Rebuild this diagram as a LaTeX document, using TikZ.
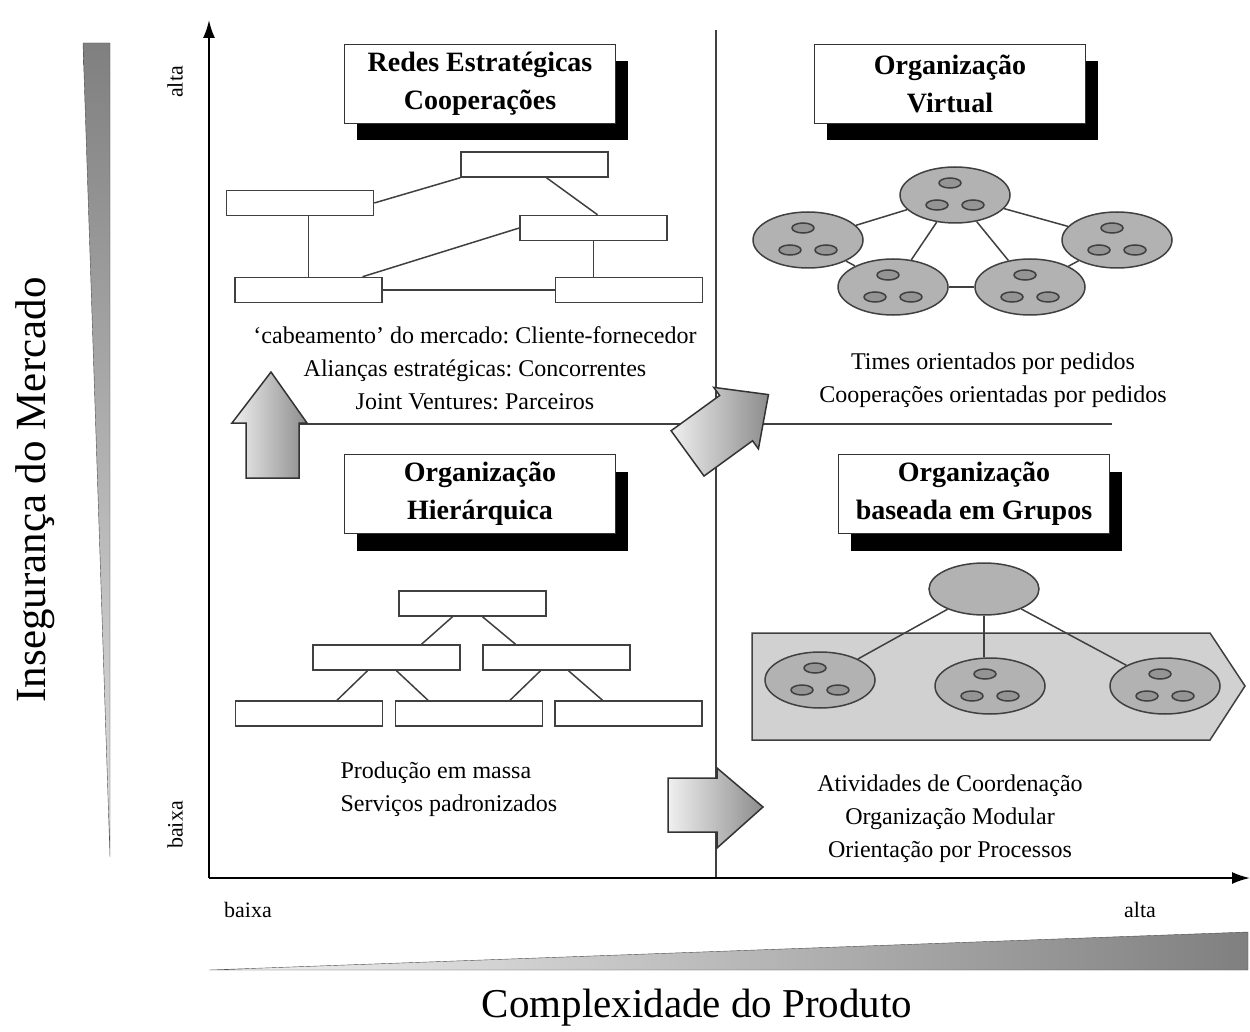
\documentclass[tikz,border=0pt]{standalone}
\usepackage{fontspec}
\setmainfont{Liberation Serif}
\usetikzlibrary{positioning,shapes.geometric,shadows,arrows.meta}
\frenchspacing

\begin{document}
\begin{tikzpicture}[x=1pt,y=-1pt,
		title/.style={draw=black!80,line width=1.5pt,fill=white,align=center,minimum width=271pt,minimum height=79pt,inner sep=0pt,font=\fontsize{28}{38}\selectfont\bfseries,general shadow={fill=black,shadow xshift=12pt,shadow yshift=-17pt}},
		box/.style={draw=black!75,line width=1.5pt,fill=white,minimum width=147pt,minimum height=25pt,inner sep=0pt},
		team/.style={ellipse,draw=black!75,line width=1.5pt,fill=black!30,minimum width=110pt,minimum height=56pt,inner sep=0pt},
		member/.style={ellipse,draw=black!75,line width=1.5pt,fill=black!42,minimum width=22pt,minimum height=10pt,inner sep=0pt},
		txt/.style={align=center,font=\fontsize{24}{33}\selectfont},
		small/.style={font=\fontsize{22}{22}\selectfont},
		link/.style={draw=black!75,line width=1.5pt},
		fat/.style={draw=black!80,line width=1.5pt,left color=black!6,right color=black!45}]
		\useasboundingbox (0,0) rectangle (1250,1032);

		\shade[top color=black!50,bottom color=black!12,draw=black!70] (83,43) -- (110,43) -- (110,857) -- cycle;
		\shade[left color=black!5,right color=black!50,draw=black!70] (209,970) -- (1248,932) -- (1248,970) -- cycle;
		\node[rotate=90,font=\fontsize{43}{43}\selectfont]	(ylabel)	at (35,490)		{Insegurança do Mercado};
		\node[font=\fontsize{41}{41}\selectfont]			(xlabel)	at (697,1008)	{Complexidade do Produto};
		\node[small,rotate=90]	(yhigh)	at (175,82)		{alta};
		\node[small,rotate=90]	(ylow)	at (175,825)	{baixa};
		\node[small]			(xlow)	at (248,910)	{baixa};
		\node[small]			(xhigh)	at (1140,910)	{alta};

		\coordinate (O)		at (209,878);
		\coordinate (ytip)	at (209,20);
		\coordinate (xtip)	at (1250,878);
		\coordinate (mtop)	at (716,30);
		\coordinate (hl)	at (300,424);
		\coordinate (hr)	at (1112,424);
		\draw[link] (mtop) -- (mtop |- O);
		\draw[link] (hl) -- (hr);
		\draw[line width=2pt,-{Latex[length=18pt,width=12pt]}] (O) -- (ytip);
		\draw[line width=2pt,-{Latex[length=18pt,width=12pt]}] (O) -- (xtip);

		\node[title]	(redes)		at (480,84)		{Redes Estratégicas\\Cooperações};
		\node[title]	(virtual)	at (950,84)		{Organização\\Virtual};
		\node[title]	(hier)		at (480,494)	{Organização\\Hierárquica};
		\node[title]	(grupos)	at (974,494)	{Organização\\baseada em Grupos};

		\node[box]	(r1)	at (534.5,164.5)	{};
		\node[box]	(r2)	at (300,203)		{};
		\node[box]	(r3)	at (593.5,228)		{};
		\node[box]	(r4)	at (308.5,290)		{};
		\node[box]	(r5)	at (629,290)		{};
		\draw[link] (r2.east) -- (r1.south west);
		\draw[link] ([xshift=12pt]r1.south) -- ([xshift=4pt]r3.north);
		\draw[link] (r4.north) -- (r4.north |- r2.south);
		\draw[link] (r3.west) -- ([xshift=54pt]r4.north);
		\draw[link] (r3.south) -- (r3.south |- r5.north);
		\draw[link] (r4.east) -- (r5.west);
		\node[txt]	(redestxt)	at (475,368)	{`cabeamento' do mercado: Cliente-fornecedor\\Alianças estratégicas: Concorrentes\\Joint Ventures: Parceiros};

		\node[team]	(v1)	at (955,195)	{};
		\node[team]	(v2)	at (808,240)	{};
		\node[team]	(v3)	at (1117,240)	{};
		\node[team]	(v4)	at (893,287)	{};
		\node[team]	(v5)	at (1030,287)	{};
		\draw[link] (v1) -- (v2);
		\draw[link] (v1) -- (v3);
		\draw[link] (v1) -- (v4);
		\draw[link] (v1) -- (v5);
		\draw[link] (v2) -- (v4);
		\draw[link] (v3) -- (v5);
		\draw[link] (v4) -- (v5);
		\node[txt]	(virtualtxt)	at (993,380)	{Times orientados por pedidos\\Cooperações orientadas por pedidos};

		\node[box]	(h1)	at (472.5,603.5)	{};
		\node[box]	(h2)	at (386.5,657.5)	{};
		\node[box]	(h3)	at (556.5,657.5)	{};
		\node[box]	(h4)	at (309,713.5)		{};
		\node[box]	(h5)	at (469,713.5)		{};
		\node[box]	(h6)	at (628.5,713.5)	{};
		\draw[link] ([xshift=-20pt]h1.south) -- ([xshift=35pt]h2.north);
		\draw[link] ([xshift=10pt]h1.south) -- ([xshift=-41pt]h3.north);
		\draw[link] ([xshift=-19pt]h2.south) -- ([xshift=28pt]h4.north);
		\draw[link] ([xshift=10pt]h2.south) -- ([xshift=-41pt]h5.north);
		\draw[link] ([xshift=-16pt]h3.south) -- ([xshift=41pt]h5.north);
		\draw[link] ([xshift=12pt]h3.south) -- ([xshift=-26pt]h6.north);
		\node[txt,align=left,anchor=west]	(hiertxt)	at (337,789)	{Produção em massa\\Serviços padronizados};

		\draw[fill=black!18,draw=black!75,line width=1.5pt] (752,633) -- (1210,633) -- (1245,686) -- (1210,740) -- (752,740) -- cycle;
		\node[team,minimum height=52pt]	(g0)	at (984,589)	{};
		\node[team]	(g1)	at (820,680)	{};
		\node[team]	(g2)	at (990,686)	{};
		\node[team]	(g3)	at (1165,686)	{};
		\draw[link] (g0) -- (g1);
		\draw[link] (g0.south) -- (g0.south |- g2.north);
		\draw[link] (g0) -- (g3);
		\node[txt]	(grupostxt)	at (950,819)	{Atividades de Coordenação\\Organização Modular\\Orientação por Processos};

		\foreach \t in {v1,v2,v3,v4,v5,g1,g2,g3} {
			\node[member]	(\t a)	at ([xshift=-5pt,yshift=12pt]\t.center)		{};
			\node[member]	(\t b)	at ([xshift=-18pt,yshift=-10pt]\t.center)	{};
			\node[member]	(\t c)	at ([xshift=18pt,yshift=-10pt]\t.center)	{};
		}

		\shade[fat] (246,478) -- (246,423) -- (232,423) -- (271,372) -- (307,423) -- (299,423) -- (299,478) -- cycle;
		\shade[fat] (668,778) -- (717,778) -- (717,768) -- (763,807) -- (717,848) -- (717,832) -- (668,832) -- cycle;
		\begin{scope}[shift={(728,424)},rotate=36]
			\shade[fat] (-50,-28) -- (10,-28) -- (10,-38) -- (50,0) -- (10,38) -- (10,28) -- (-50,28) -- cycle;
		\end{scope}
	\end{tikzpicture}
\end{document}
